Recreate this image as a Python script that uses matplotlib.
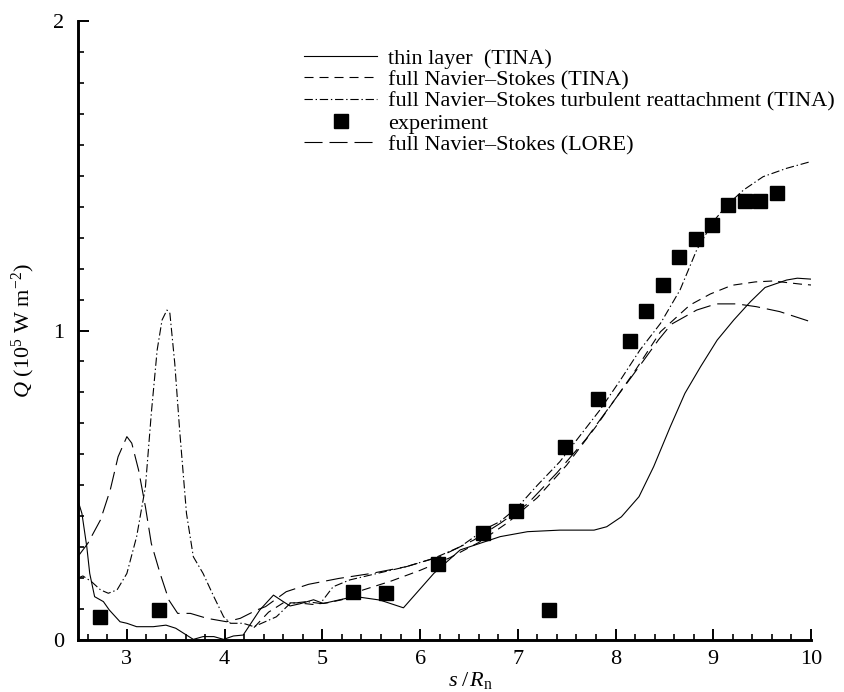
import matplotlib
matplotlib.use("Agg")
import matplotlib.pyplot as plt
from matplotlib.ticker import MultipleLocator

plt.rcParams['font.family'] = 'Liberation Serif'
plt.rcParams['mathtext.fontset'] = 'custom'
plt.rcParams['mathtext.rm'] = 'Liberation Serif'
plt.rcParams['mathtext.it'] = 'Liberation Serif:italic'
plt.rcParams['lines.scale_dashes'] = False

# thin layer (TINA)
thin_x = [2.5, 2.54, 2.59, 2.62, 2.67, 2.76, 2.82, 2.93, 3.0, 3.1, 3.27, 3.4, 3.5,
          3.61, 3.68, 3.78, 3.89, 3.99, 4.09, 4.19, 4.36, 4.5, 4.6, 4.67, 4.77, 4.91,
          5.01, 5.25, 5.39, 5.59, 5.83, 6.14, 6.41, 6.82, 7.1, 7.43, 7.78, 7.91, 8.06,
          8.24, 8.39, 8.56, 8.71, 8.87, 9.04, 9.21, 9.38, 9.53, 9.75, 9.86, 10.0]
thin_y = [0.45, 0.409, 0.301, 0.215, 0.14, 0.124, 0.097, 0.059, 0.054, 0.043, 0.043,
          0.048, 0.038, 0.016, 0.002, 0.011, 0.011, 0.002, 0.013, 0.016, 0.097, 0.145,
          0.124, 0.11, 0.117, 0.13, 0.118, 0.135, 0.138, 0.129, 0.104, 0.215, 0.291,
          0.334, 0.35, 0.355, 0.355, 0.366, 0.398, 0.463, 0.56, 0.689, 0.797, 0.883,
          0.969, 1.034, 1.093, 1.139, 1.163, 1.169, 1.166]

# full Navier-Stokes (TINA)
ns_x = [4.3, 4.45, 4.6, 4.75, 4.9, 5.05, 5.2, 5.4, 5.7, 6.0, 6.3, 6.6, 6.9, 7.2, 7.5,
        7.8, 8.0, 8.2, 8.46, 8.76, 8.97, 9.19, 9.43, 9.61, 9.89, 10.0]
ns_y = [0.04, 0.09, 0.12, 0.12, 0.115, 0.12, 0.13, 0.16, 0.19, 0.225, 0.265, 0.315,
        0.38, 0.46, 0.565, 0.69, 0.78, 0.87, 0.996, 1.082, 1.118, 1.146, 1.157, 1.16,
        1.15, 1.147]

# full Navier-Stokes turbulent reattachment (TINA)
tr_x = [2.5, 2.55, 2.64, 2.73, 2.81, 2.9, 3.0, 3.1, 3.19, 3.25, 3.31, 3.36, 3.41,
        3.44, 3.49, 3.54, 3.61, 3.68, 3.78, 3.89, 3.99, 4.06, 4.19, 4.3, 4.53, 4.67,
        4.84, 4.98, 5.11, 5.28, 5.56, 5.86, 6.14, 6.41, 6.68, 6.82, 7.0, 7.2, 7.43,
        7.84, 8.05, 8.25, 8.46, 8.66, 8.83, 9.0, 9.14, 9.31, 9.51, 9.75, 10.0]
tr_y = [0.2, 0.207, 0.188, 0.162, 0.151, 0.162, 0.215, 0.334, 0.495, 0.732, 0.937,
        1.034, 1.066, 1.056, 0.894, 0.678, 0.409, 0.269, 0.215, 0.14, 0.075, 0.054,
        0.054, 0.043, 0.075, 0.118, 0.124, 0.118, 0.172, 0.194, 0.215, 0.237, 0.264,
        0.301, 0.361, 0.383, 0.43, 0.5, 0.576, 0.743, 0.84, 0.937, 1.023, 1.131, 1.26,
        1.352, 1.405, 1.454, 1.497, 1.524, 1.546]

# experiment
exp_x = [2.72, 3.33, 5.31, 5.65, 6.18, 6.64, 6.98, 7.32, 7.48, 7.82, 8.15, 8.31,
         8.49, 8.65, 8.82, 8.99, 9.15, 9.32, 9.48, 9.65]
exp_y = [0.075, 0.097, 0.154, 0.153, 0.247, 0.347, 0.418, 0.097, 0.625, 0.779,
         0.966, 1.064, 1.147, 1.239, 1.297, 1.341, 1.405, 1.42, 1.42, 1.445]

# full Navier-Stokes (LORE)
lo_x = [2.5, 2.6, 2.73, 2.83, 2.91, 3.0, 3.05, 3.12, 3.19, 3.25, 3.34, 3.43, 3.52,
        3.65, 3.82, 4.02, 4.16, 4.33, 4.42, 4.63, 4.86, 5.17, 5.5, 5.86, 6.2, 6.55,
        6.82, 7.1, 7.4, 7.7, 8.0, 8.28, 8.44, 8.57, 8.83, 9.03, 9.24, 9.44, 9.68, 10.0]
lo_y = [0.27, 0.312, 0.388, 0.485, 0.592, 0.657, 0.636, 0.549, 0.43, 0.312, 0.215,
        0.129, 0.086, 0.086, 0.07, 0.059, 0.07, 0.097, 0.108, 0.156, 0.18, 0.199,
        0.215, 0.237, 0.269, 0.323, 0.377, 0.44, 0.54, 0.65, 0.78, 0.9, 0.97, 1.02,
        1.066, 1.086, 1.086, 1.077, 1.061, 1.028]

fig = plt.figure(figsize=(8.44, 6.92), dpi=100)
ax = fig.add_axes([78 / 844, 52 / 692, 733 / 844, 619 / 692])

lw = 0.8
ax.plot(thin_x, thin_y, color='black', lw=lw, label='thin layer  (TINA)')
ax.plot(ns_x, ns_y, color='black', lw=lw, dashes=(6.5, 4.3),
        label='full Navier\u2013Stokes (TINA)')
ax.plot(tr_x, tr_y, color='black', lw=lw, dashes=(6, 2, 1, 2),
        label='full Navier\u2013Stokes turbulent reattachment (TINA)')
ax.plot(exp_x, exp_y, ls='none', marker='s', ms=10, color='black',
        label='experiment')
ax.plot(lo_x, lo_y, color='black', lw=lw, dashes=(13, 5),
        label='full Navier\u2013Stokes (LORE)')

ax.set_xlim(2.5, 10)
ax.set_ylim(0, 2)
ax.spines['top'].set_visible(False)
ax.spines['right'].set_visible(False)
for side in ('left', 'bottom'):
    ax.spines[side].set_linewidth(2.1)

ax.xaxis.set_major_locator(MultipleLocator(1))
ax.xaxis.set_minor_locator(MultipleLocator(0.2))
ax.yaxis.set_major_locator(MultipleLocator(1))
ax.yaxis.set_minor_locator(MultipleLocator(0.1))
ax.tick_params(which='major', direction='in', length=8, width=1.4, labelsize=16)
ax.tick_params(which='minor', direction='in', length=4.5, width=1.2)
ax.tick_params(axis='x', pad=7)
ax.tick_params(axis='y', pad=10)

ax.set_xlabel(r'$s\;/\,R_{\rm n}$', fontsize=16)
ax.xaxis.set_label_coords(0.535, -0.048)
ax.set_ylabel(r'$Q$ (10$^5$ W m$^{-2}$)', fontsize=16)
ax.yaxis.set_label_coords(-0.056, 0.5)

ax.legend(loc='upper left', bbox_to_anchor=(304 / 844, 644 / 692),
          bbox_transform=fig.transFigure, frameon=False, fontsize=16,
          borderpad=0, borderaxespad=0, handlelength=3.3, handletextpad=0.5,
          labelspacing=0.05)

fig.savefig('out.png', dpi=100)
